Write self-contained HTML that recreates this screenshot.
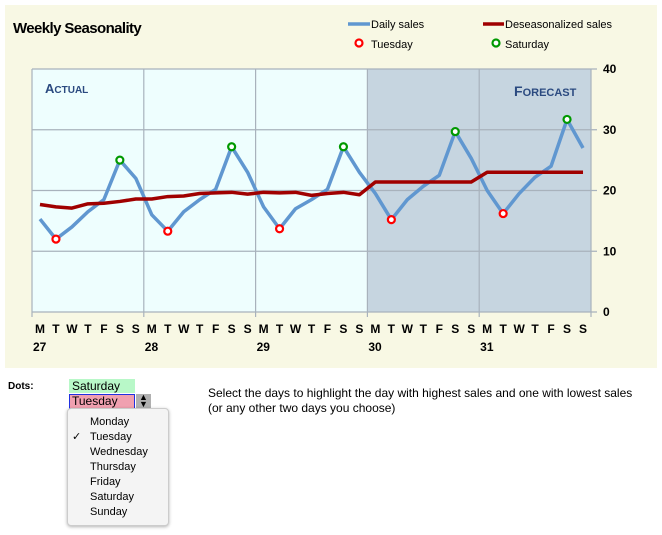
<!DOCTYPE html>
<html><head><meta charset="utf-8"><style>
body{margin:0;width:662px;height:535px;background:#fff;font-family:"Liberation Sans",sans-serif;position:relative;overflow:hidden}
.abs{position:absolute}
</style></head><body>
<div class="abs" style="left:5px;top:5px;width:652px;height:363px;background:#f8f8e4"></div>
<svg class="abs" style="left:0;top:0" width="662" height="370">
<text x="13" y="33" font-size="15" font-weight="bold" letter-spacing="-0.6">Weekly Seasonality</text>
<g font-size="11">
<g><line x1="348" y1="24" x2="370" y2="24" stroke="#6097d0" stroke-width="3.5"/><text x="371" y="28">Daily sales</text></g>
<g><line x1="483" y1="24" x2="504" y2="24" stroke="#a00000" stroke-width="3.5"/><text x="505" y="28">Deseasonalized sales</text></g>
<g><circle cx="359" cy="43" r="3.5" fill="#fff" stroke="#f00" stroke-width="2.2"/><text x="371" y="48">Tuesday</text></g>
<g><circle cx="496" cy="43" r="3.5" fill="#fff" stroke="#090" stroke-width="2.2"/><text x="505" y="48">Saturday</text></g>
</g>
<g id="plot"></g>
</svg>
<div class="abs" style="left:8px;top:381px;font-size:10px;font-weight:bold">Dots:</div>
<div class="abs" style="left:69px;top:379px;width:66px;height:14px;background:#b8f8c8;font-size:12px;line-height:14px;padding-left:3px;box-sizing:border-box">Saturday</div>
<div class="abs" style="left:69px;top:394px;width:66px;height:15px;background:#f0a0b0;border:1.5px solid #2030e0;font-size:12px;line-height:12px;padding-left:2px;box-sizing:border-box">Tuesday</div>
<div class="abs" style="left:136px;top:394px;width:15px;height:15px;background:#b0b0b0;font-size:9px;text-align:center;line-height:7px">▲<br>▼</div>
<div class="abs" style="left:67px;top:408px;width:102px;height:118px;background:#f4f4f4;border:1px solid #ccc;border-radius:4px;box-shadow:0 1px 3px rgba(0,0,0,.3);font-size:11px;line-height:15px;padding-top:6px;box-sizing:border-box">
<div style="padding-left:22px">Monday</div>
<div style="padding-left:22px;position:relative"><span style="position:absolute;left:4px">✓</span>Tuesday</div>
<div style="padding-left:22px">Wednesday</div>
<div style="padding-left:22px">Thursday</div>
<div style="padding-left:22px">Friday</div>
<div style="padding-left:22px">Saturday</div>
<div style="padding-left:22px">Sunday</div>
</div>
<div class="abs" style="left:208px;top:386px;width:440px;font-size:12px;line-height:15px">Select the days to highlight the day with highest sales and one with lowest sales (or any other two days you choose)</div>
<script>
const dayLabels=["M","T","W","T","F","S","S"];
const weekLabels=["27","28","29","30","31"];
const yTicks=[0,10,20,30,40];
const dailySales=[15.3,12,14,16.5,18.5,25,22, 16,13.3,16.5,18.5,20.2,27.2,23, 17.3,13.7,17,18.5,20.2,27.2,23, 19.5,15.2,18.5,20.7,22.5,29.7,25.3, 20,16.2,19.5,22.2,24,31.7,27];
const deseasonalized=[17.7,17.3,17.1,17.8,17.9,18.2,18.6, 18.6,19.0,19.1,19.5,19.6,19.7,19.4, 19.7,19.6,19.7,19.2,19.5,19.7,19.3, 21.4,21.4,21.4,21.4,21.4,21.4,21.4, 23,23,23,23,23,23,23];
const forecastStartWeek=3;
const highlightLow=1, highlightHigh=5;
const X0=32,X1=591,Y0=312,Y1=69,N=dailySales.length;
const dw=(X1-X0)/N;
const x=i=>X0+dw*(i+0.5);
const y=v=>Y0-(v/40)*(Y0-Y1);
const NS="http://www.w3.org/2000/svg";
const g=document.getElementById('plot');
function mk(t,a,p){const e=document.createElementNS(NS,t);for(const k in a)e.setAttribute(k,a[k]);(p||g).appendChild(e);return e;}
const fx=X0+dw*7*forecastStartWeek;
let r=mk('rect',{x:X0,y:Y1,width:fx-X0,height:Y0-Y1,fill:'#eefefe'});


r=mk('rect',{x:fx,y:Y1,width:X1-fx,height:Y0-Y1,fill:'#c6d5e0'});


yTicks.forEach(t=>{
 let l=mk('line',{x1:X0,x2:X1+6,y1:y(t),y2:y(t),stroke:'#a8b2bc','stroke-width':1.2});
 
 
 let tx=mk('text',{x:X1+12,y:y(t)+4,'font-size':12,'font-weight':'bold'});tx.textContent=t;
 
 
});
for(let w=0;w<=weekLabels.length;w++){
 const xx=X0+dw*7*w;
 let l=mk('line',{x1:xx,x2:xx,y1:Y1,y2:Y0+5,stroke:'#a8b2bc','stroke-width':1.2});
 
 
}
let t=mk('text',{x:45,y:93,'font-size':13,'font-weight':'bold',fill:'#2b4a80'});t.innerHTML='A<tspan font-size="10">CTUAL</tspan>';


t=mk('text',{x:514,y:96,'font-size':14,'font-weight':'bold',fill:'#2b4a80'});t.innerHTML='F<tspan font-size="11">ORECAST</tspan>';


for(let i=0;i<N;i++){
 let tx=mk('text',{x:x(i),y:333,'font-size':12,'font-weight':'bold','text-anchor':'middle'});tx.textContent=dayLabels[i%7];
 
 
}
weekLabels.forEach((w,k)=>{
 let tx=mk('text',{x:x(7*k)-7,y:351,'font-size':12,'font-weight':'bold'});tx.textContent=w;
 
 
});
let p=mk('polyline',{points:dailySales.map((v,i)=>x(i)+','+y(v)).join(' '),fill:'none',stroke:'#6097d0','stroke-width':3.5,'stroke-linejoin':'round'});


p=mk('polyline',{points:deseasonalized.map((v,i)=>x(i)+','+y(v)).join(' '),fill:'none',stroke:'#a00000','stroke-width':3.5,'stroke-linejoin':'round'});


dailySales.forEach((v,i)=>{
 const d=i%7;
 if(d!==highlightLow&&d!==highlightHigh)return;
 let c=mk('circle',{cx:x(i),cy:y(v),r:3.5,fill:'#fff',stroke:d===highlightLow?'#f00':'#090','stroke-width':2.2});
 
 
});
</script>
</body></html>
